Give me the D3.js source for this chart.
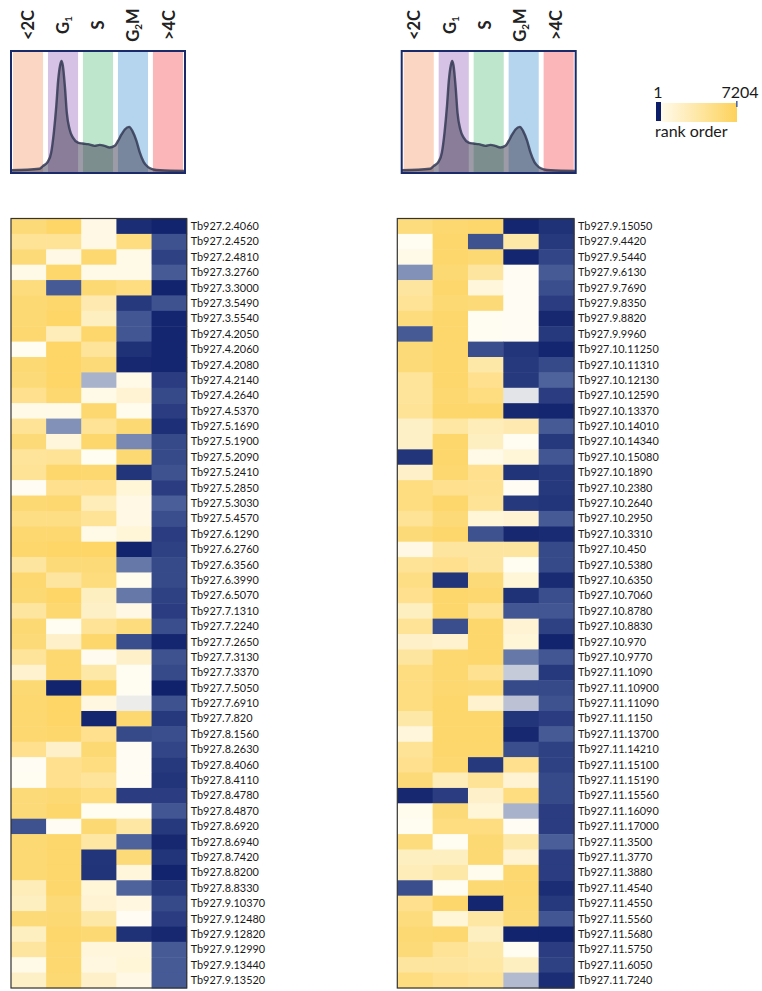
<!DOCTYPE html>
<html>
<head>
<meta charset="utf-8">
<script src="https://cdnjs.cloudflare.com/ajax/libs/d3/7.8.5/d3.min.js"></script>
<style>
  body { margin: 0; background: #fff; }
</style>
</head>
<body>
<div id="chart"></div>
<script>

// Cell cycle phases (columns) and their header labels
var phases = ["<2C", "G1", "S", "G2M", ">4C"];
var phaseColors = ["#fbd6c2", "#d6c2e4", "#bde6cc", "#b5d4ed", "#fbb6b9"];

// Genes shown in each panel
var leftGenes = ["Tb927.2.4060", "Tb927.2.4520", "Tb927.2.4810", "Tb927.3.2760", "Tb927.3.3000",
  "Tb927.3.5490", "Tb927.3.5540", "Tb927.4.2050", "Tb927.4.2060", "Tb927.4.2080",
  "Tb927.4.2140", "Tb927.4.2640", "Tb927.4.5370", "Tb927.5.1690", "Tb927.5.1900",
  "Tb927.5.2090", "Tb927.5.2410", "Tb927.5.2850", "Tb927.5.3030", "Tb927.5.4570",
  "Tb927.6.1290", "Tb927.6.2760", "Tb927.6.3560", "Tb927.6.3990", "Tb927.6.5070",
  "Tb927.7.1310", "Tb927.7.2240", "Tb927.7.2650", "Tb927.7.3130", "Tb927.7.3370",
  "Tb927.7.5050", "Tb927.7.6910", "Tb927.7.820", "Tb927.8.1560", "Tb927.8.2630",
  "Tb927.8.4060", "Tb927.8.4110", "Tb927.8.4780", "Tb927.8.4870", "Tb927.8.6920",
  "Tb927.8.6940", "Tb927.8.7420", "Tb927.8.8200", "Tb927.8.8330", "Tb927.9.10370",
  "Tb927.9.12480", "Tb927.9.12820", "Tb927.9.12990", "Tb927.9.13440", "Tb927.9.13520"];

var rightGenes = ["Tb927.9.15050", "Tb927.9.4420", "Tb927.9.5440", "Tb927.9.6130", "Tb927.9.7690",
  "Tb927.9.8350", "Tb927.9.8820", "Tb927.9.9960", "Tb927.10.11250", "Tb927.10.11310",
  "Tb927.10.12130", "Tb927.10.12590", "Tb927.10.13370", "Tb927.10.14010", "Tb927.10.14340",
  "Tb927.10.15080", "Tb927.10.1890", "Tb927.10.2380", "Tb927.10.2640", "Tb927.10.2950",
  "Tb927.10.3310", "Tb927.10.450", "Tb927.10.5380", "Tb927.10.6350", "Tb927.10.7060",
  "Tb927.10.8780", "Tb927.10.8830", "Tb927.10.970", "Tb927.10.9770", "Tb927.11.1090",
  "Tb927.11.10900", "Tb927.11.11090", "Tb927.11.1150", "Tb927.11.13700", "Tb927.11.14210",
  "Tb927.11.15100", "Tb927.11.15190", "Tb927.11.15560", "Tb927.11.16090", "Tb927.11.17000",
  "Tb927.11.3500", "Tb927.11.3770", "Tb927.11.3880", "Tb927.11.4540", "Tb927.11.4550",
  "Tb927.11.5560", "Tb927.11.5680", "Tb927.11.5750", "Tb927.11.6050", "Tb927.11.7240"];

// Rank order (1..7204) per gene, columns follow phases
var leftRanks = [
  [6500, 6900, 4000, 400, 200], [5800, 5800, 4000, 6300, 1300], [6500, 4000, 6700, 3900, 900],
  [3900, 6800, 3900, 3900, 1500], [6400, 1500, 6600, 6300, 200], [6600, 6800, 5200, 700, 1300],
  [6600, 6900, 4800, 1400, 250], [6700, 5000, 6800, 1400, 250], [3700, 6900, 5700, 500, 250],
  [6600, 6900, 6500, 300, 250], [6500, 6900, 2700, 3900, 800], [6000, 6700, 3900, 4400, 1100],
  [3900, 3900, 6700, 3800, 800], [5800, 2300, 5800, 6600, 450], [6500, 4200, 6800, 2200, 1100],
  [5700, 5800, 3700, 6600, 1100], [5800, 6800, 6700, 600, 1300], [3650, 6000, 6000, 4300, 800],
  [6600, 6700, 5000, 4000, 1600], [6200, 6200, 5800, 4000, 1200], [6700, 6700, 3900, 4300, 800],
  [6800, 6900, 6900, 200, 900], [5600, 6500, 6500, 2000, 1100], [6700, 5600, 6400, 3800, 1100],
  [6600, 6900, 4800, 2000, 900], [5600, 6700, 4700, 4000, 800], [6600, 3700, 5800, 6400, 1200],
  [6500, 4600, 6800, 1200, 250], [5700, 6700, 3750, 4600, 1300], [4500, 6700, 5400, 3700, 1100],
  [6600, 200, 6800, 3700, 150], [6700, 6900, 4100, 3400, 1300], [6700, 6900, 250, 6700, 700],
  [6700, 6800, 6000, 1100, 1200], [6000, 4600, 6600, 3650, 1000], [3650, 6000, 6300, 3650, 700],
  [3700, 6000, 5700, 3650, 600], [6500, 6600, 6300, 800, 800], [6500, 6800, 3700, 3700, 1400],
  [1300, 3650, 6600, 5500, 700], [6600, 6800, 5500, 1700, 300], [6600, 6800, 600, 6500, 600],
  [6600, 6800, 550, 4200, 200], [5000, 6800, 4300, 1700, 700], [4800, 6500, 4400, 4100, 1100],
  [6500, 6600, 5400, 3650, 800], [4800, 6800, 6600, 500, 300], [5600, 6700, 4200, 4200, 1500],
  [3900, 6700, 4100, 4300, 1500], [4700, 6600, 4600, 4000, 1500]];

var rightRanks = [
  [6400, 6700, 6800, 250, 500], [3700, 6800, 1300, 5400, 700], [3900, 6800, 6600, 250, 1000],
  [2300, 6600, 5600, 3650, 1500], [5600, 6800, 4200, 3650, 1200], [5800, 6600, 6500, 3650, 800],
  [6400, 6800, 3700, 3650, 300], [1500, 6800, 3700, 3650, 700], [6500, 6800, 1200, 600, 250],
  [6500, 6800, 5400, 700, 1100], [5700, 6800, 6000, 700, 1700], [5700, 6700, 6300, 3300, 800],
  [5800, 6800, 6800, 300, 250], [4700, 5500, 5000, 5200, 1500], [4700, 6800, 4800, 3700, 700],
  [600, 6800, 3900, 4300, 1400], [4600, 6700, 6000, 550, 700], [6300, 6000, 5900, 3650, 700],
  [6300, 6800, 5800, 700, 600], [5800, 6500, 4300, 4400, 1500], [6500, 6800, 1300, 300, 350],
  [4000, 5600, 5600, 5600, 1100], [5800, 6000, 5600, 3700, 1100], [6200, 600, 6500, 4300, 350],
  [6000, 6800, 6700, 500, 1200], [4800, 6800, 5800, 1400, 1400], [5800, 1200, 6800, 4400, 900],
  [4600, 4500, 6800, 4300, 200], [5600, 6700, 6800, 2000, 1400], [6300, 6700, 5900, 3000, 700],
  [6300, 6700, 6600, 1100, 1100], [6300, 6800, 4500, 2900, 1300], [5400, 6800, 6800, 600, 800],
  [4200, 6800, 6800, 300, 1500], [5800, 6800, 6800, 1200, 900], [6000, 6700, 700, 6000, 900],
  [6500, 5000, 5800, 4400, 1100], [300, 800, 4600, 6300, 1100], [3800, 6500, 4300, 2700, 800],
  [3700, 6300, 6300, 3650, 800], [6400, 3700, 6600, 5400, 1600], [4800, 4800, 6600, 4400, 800],
  [5000, 5400, 3800, 6700, 800], [1200, 3700, 6600, 6700, 400], [6000, 6800, 250, 6600, 700],
  [6400, 4300, 5500, 6500, 1400], [6600, 6700, 4800, 200, 200], [6500, 5800, 5400, 3700, 800],
  [5600, 5600, 5500, 4800, 900], [6300, 6000, 5800, 2800, 400]];

// DNA content histogram (x: % of panel width, y: % of panel height)
var histX = [0, 16.3, 18.3, 21.2, 23.1, 24.6, 26.0, 27.1, 28.3, 29.0, 29.8, 31.0, 32.1, 33.7,
  35.6, 38.5, 41.3, 44.2, 48.1, 51.0, 53.8, 56.7, 59.6, 61.5, 63.5, 65.4, 67.9, 69.8,
  72.1, 74.0, 76.3, 78.8, 81.7, 85.6, 100];
var histY = [1.4, 2.7, 4.9, 8.7, 16.3, 32.7, 54.5, 76.3, 89.4, 92.6, 88.6, 70.8, 49.0, 35.4,
  28.6, 24.5, 23.7, 23.2, 21.8, 22.6, 21.8, 20.4, 21.8, 25.9, 31.3, 35.4, 37.6, 34.1,
  25.9, 16.3, 8.2, 4.1, 2.2, 1.4, 0.8];

var rankMin = 1, rankMax = 7204;

var width = 762,
    height = 991;

var svg = d3.select("#chart")
    .append("svg")
    .attr("width", width)
    .attr("height", height)
    .style("font-family", "Lato, 'Open Sans', sans-serif");

var rankMid = (rankMin + rankMax) / 2;

var color = d3.scaleLinear()
    .domain([rankMin, rankMid / 2, rankMid, rankMax])
    .range(["#0b1c68", "#52679f", "#fffdf5", "#fdd25a"]);

var panels = [
  { genes: leftGenes, ranks: leftRanks, hx: [11, 185], mx: [11, 186.7] },
  { genes: rightGenes, ranks: rightRanks, hx: [401.7, 575.7], mx: [397.3, 574] }
];

var histPts = histX.map(function(x, i) { return [x, histY[i]]; });

panels.forEach(function(p) {
  var g = svg.append("g");

  // ---- histogram panel with coloured phase bands
  var hxScale = d3.scaleLinear().domain([0, 100]).range(p.hx);
  var hyScale = d3.scaleLinear().domain([0, 100]).range([172, 52]);
  var band = d3.scaleBand().domain(phases)
      .range([p.hx[0] + 2, p.hx[1] - 2])
      .paddingInner(0.14)
      .paddingOuter(0);

  g.selectAll("rect.band")
      .data(phases)
      .enter().append("rect")
      .attr("class", "band")
      .attr("x", function(d) { return band(d); })
      .attr("y", 52)
      .attr("width", band.bandwidth())
      .attr("height", 120)
      .attr("fill", function(d, i) { return phaseColors[i]; });

  var area = d3.area()
      .x(function(d) { return hxScale(d[0]); })
      .y0(hyScale(0))
      .y1(function(d) { return hyScale(d[1]); })
      .curve(d3.curveMonotoneX);

  var line = d3.line()
      .x(function(d) { return hxScale(d[0]); })
      .y(function(d) { return hyScale(d[1]); })
      .curve(d3.curveMonotoneX);

  g.append("path")
      .attr("d", area(histPts))
      .attr("fill", "rgb(60,55,80)")
      .attr("fill-opacity", 0.5);

  g.append("path")
      .attr("d", line(histPts))
      .attr("fill", "none")
      .attr("stroke", "#343955")
      .attr("stroke-width", 2.4)
      .attr("stroke-opacity", 0.85);

  g.append("rect")
      .attr("x", p.hx[0])
      .attr("y", 51)
      .attr("width", p.hx[1] - p.hx[0])
      .attr("height", 122)
      .attr("fill", "none")
      .attr("stroke", "#1b2a6b")
      .attr("stroke-width", 2);

  // ---- heatmap
  var x = d3.scaleBand().domain(phases).range(p.mx);
  var y = d3.scaleBand().domain(p.genes).range([218.5, 988]);

  // phase labels (rotated), aligned with the heatmap columns
  var hdr = g.selectAll("text.phase")
      .data(phases)
      .enter().append("text")
      .attr("class", "phase")
      .attr("transform", function(d) {
        return "translate(" + (x(d) + x.bandwidth() / 2 + 5.5) + ",25) rotate(-90)";
      })
      .attr("text-anchor", "middle")
      .attr("font-size", "16.5px")
      .attr("font-weight", "bold")
      .attr("fill", "#222");

  hdr.each(function(d) {
    var t = d3.select(this);
    var m = d.match(/^G(\d)(.*)$/);
    if (m) {
      t.append("tspan").text("G");
      t.append("tspan").attr("font-size", "10px").attr("dy", "3").text(m[1]);
      t.append("tspan").attr("dy", "-3").text(m[2]);
    } else {
      t.text(d);
    }
  });

  var cells = [];
  p.genes.forEach(function(gene, r) {
    phases.forEach(function(ph, c) {
      cells.push({ gene: gene, phase: ph, rank: p.ranks[r][c] });
    });
  });

  g.selectAll("rect.cell")
      .data(cells)
      .enter().append("rect")
      .attr("class", "cell")
      .attr("x", function(d) { return x(d.phase); })
      .attr("y", function(d) { return y(d.gene); })
      .attr("width", x.bandwidth() + 0.5)
      .attr("height", y.bandwidth() + 0.5)
      .attr("fill", function(d) { return color(d.rank); });

  g.append("rect")
      .attr("x", p.mx[0])
      .attr("y", 218.5)
      .attr("width", p.mx[1] - p.mx[0])
      .attr("height", 988 - 218.5)
      .attr("fill", "none")
      .attr("stroke", "#333")
      .attr("stroke-width", 1.2);

  g.selectAll("text.gene")
      .data(p.genes)
      .enter().append("text")
      .attr("class", "gene")
      .attr("x", p.mx[1] + 4)
      .attr("y", function(d) { return y(d) + y.bandwidth() / 2; })
      .attr("dy", "0.35em")
      .attr("font-size", "10.9px")
      .attr("fill", "#1a1a1a")
      .text(function(d) { return d; });
});

// ---- colour key
var key = svg.append("g");
var keyX = d3.scaleLinear().domain([rankMin, rankMax]).range([656, 737]);

var grad = svg.append("defs")
    .append("linearGradient")
    .attr("id", "keyGrad")
    .attr("x1", "0%").attr("x2", "100%");

d3.range(0, 1.01, 0.25).forEach(function(t) {
  var v = rankMid + t * (rankMax - rankMid);
  grad.append("stop")
      .attr("offset", (t * 100) + "%")
      .attr("stop-color", color(v));
});

key.append("rect")
    .attr("x", keyX(rankMin))
    .attr("y", 103)
    .attr("width", keyX(rankMax) - keyX(rankMin))
    .attr("height", 19)
    .attr("fill", "url(#keyGrad)");

key.append("rect")
    .attr("x", keyX(rankMin))
    .attr("y", 102)
    .attr("width", 5)
    .attr("height", 19)
    .attr("fill", color(rankMin));

key.append("rect")
    .attr("x", keyX(rankMax) - 1)
    .attr("y", 101)
    .attr("width", 1.6)
    .attr("height", 6)
    .attr("fill", "#4d6aa8");

key.selectAll("text.end")
    .data([rankMin, rankMax])
    .enter().append("text")
    .attr("class", "end")
    .attr("x", function(d) { return keyX(d) + (d === rankMin ? 2 : 3); })
    .attr("y", 98)
    .attr("text-anchor", "middle")
    .attr("font-size", "16px")
    .attr("fill", "#1a1a1a")
    .text(function(d) { return d; });

key.append("text")
    .attr("x", 655)
    .attr("y", 137)
    .attr("font-size", "16px")
    .attr("fill", "#1a1a1a")
    .text("rank order");

</script>
</body>
</html>
